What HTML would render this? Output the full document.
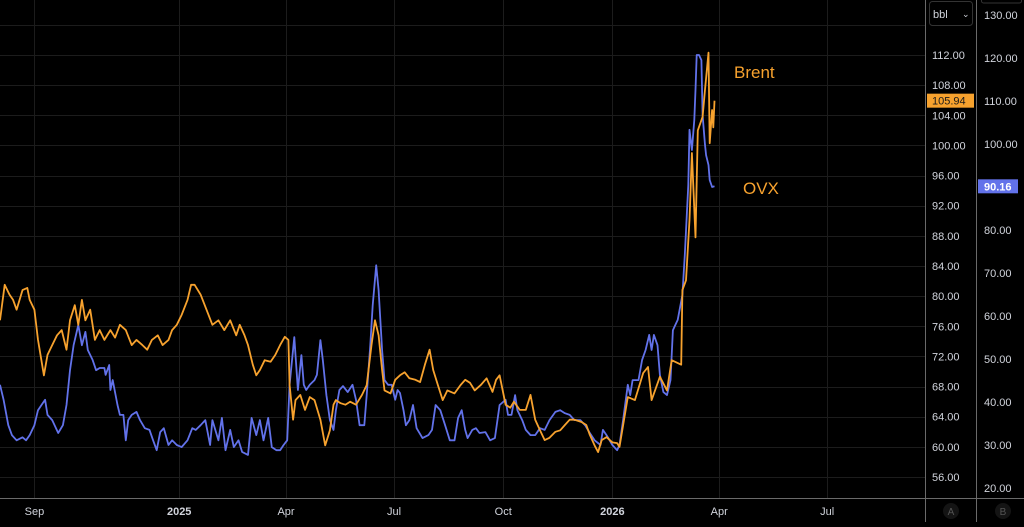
<!DOCTYPE html>
<html><head><meta charset="utf-8"><style>
html,body{margin:0;padding:0;background:#000;}
body{width:1024px;height:522px;overflow:hidden;font-family:"Liberation Sans",sans-serif;}
svg text{font-family:"Liberation Sans",sans-serif;}
</style></head><body>
<svg id="chart" width="1024" height="522" xmlns="http://www.w3.org/2000/svg">
<rect x="0" y="0" width="1024" height="522" fill="#000"/>
<g id="grid"></g>
<g id="series"></g>
<line x1="925.5" y1="0" x2="925.5" y2="522" stroke="#6a6a6a" stroke-width="1"/>
<line x1="976.5" y1="0" x2="976.5" y2="522" stroke="#6a6a6a" stroke-width="1"/>
<line x1="0" y1="498.5" x2="1024" y2="498.5" stroke="#6a6a6a" stroke-width="1"/>
<g id="axisA"></g>
<g id="axisB"></g>
<g id="axisX"></g>
<g>
<rect x="929.5" y="1.5" width="43" height="24" rx="3" fill="#000" stroke="#333"/>
<text x="933" y="18" fill="#d1d4dc" font-size="11">bbl</text>
<text x="962" y="17" fill="#d1d4dc" font-size="9">⌄</text>
</g>
<rect x="981.5" y="-4" width="40" height="7" rx="2" fill="none" stroke="#333"/>
<g><circle cx="951" cy="511" r="8" fill="#141414"/><text x="951" y="515" fill="#555" font-size="10" text-anchor="middle">A</text></g>
<g><circle cx="1003" cy="511" r="8" fill="#141414"/><text x="1003" y="515" fill="#555" font-size="10" text-anchor="middle">B</text></g>
<text x="734" y="78" fill="#f7a22e" font-size="17">Brent</text>
<text x="743" y="194" fill="#f7a22e" font-size="17">OVX</text>
<g id="tags"></g>
</svg>
<script>
const brentDays=[0,4,8,11,14,19,23,25,29,32,37,40,44,48,52,56,59,63,66,69,72,76,80,84,88,93,97,101,106,111,115,120,124,128,133,137,142,145,149,153,158,161,164,169,174,179,184,189,194,199,202,206,209,213,216,219,223,228,232,236,240,243,244,247,249,253,257,261,265,270,274,278,281,283,287,291,295,300,305,309,313,316,319,322,324,329,333,337,341,345,350,354,358,362,365,369,373,377,383,388,392,396,400,405,410,415,418,421,426,430,433,438,443,447,451,455,459,463,468,472,476,480,484,490,494,497,501,504,507,511,516,520,522,529,535,542,546,549,556,562,566,574,575,578,581,583,586,588,592,594,597,598,600,601,602];
const brentValues=[76.8,81.5,80.2,79.5,78.2,80.8,81.1,79.5,78.2,74.2,69.5,72.2,73.5,74.8,75.5,72.9,76.8,78.8,76.2,79.5,76.8,78.2,74.2,75.5,74.2,75.5,74.5,76.2,75.5,73.5,74.2,73.5,72.9,74.2,74.8,73.5,74.2,75.5,76.2,77.5,79.5,81.5,81.5,80.2,78.2,76.2,76.8,75.5,76.8,74.8,76.2,74.8,73.5,70.9,69.5,70.2,71.5,71.3,72.2,73.5,74.6,74.2,68.2,63.6,66.2,66.9,64.9,66.6,66.2,63.6,60.2,62.2,65.6,66.2,65.8,65.6,66.0,65.6,66.9,68.2,73.5,76.8,74.8,70.2,67.5,67.1,68.9,69.5,69.9,69.1,68.9,68.6,70.9,72.9,70.2,68.2,66.2,67.5,67.1,68.2,68.9,68.5,67.5,68.2,69.1,67.3,68.9,69.5,65.6,65.2,66.0,64.9,64.9,66.9,63.6,62.2,60.9,61.2,62.0,62.2,62.9,63.6,63.6,63.3,62.9,61.6,60.2,59.3,60.9,61.3,60.6,60.5,60.0,66.6,66.2,69.8,70.6,66.2,69.3,67.5,71.5,70.9,80.8,82.1,90.1,99.0,87.8,102.0,103.8,107.4,112.3,100.3,104.7,102.4,105.94];
const ovxDays=[0,3,7,10,14,19,22,25,29,32,35,38,40,44,46,49,53,56,59,62,63,66,69,72,74,78,81,84,88,89,92,93,95,99,101,104,106,108,111,115,118,122,126,129,132,135,138,142,145,149,153,158,162,165,169,173,177,179,184,187,190,194,197,201,204,209,212,216,219,222,226,229,233,236,239,242,244,248,249,251,254,256,258,261,265,267,270,272,275,278,281,283,286,289,293,297,300,303,307,309,312,314,317,319,322,324,327,330,333,335,337,340,342,345,348,351,356,361,364,367,371,375,379,383,386,389,392,394,398,401,404,409,413,417,421,426,428,431,434,436,440,443,447,451,455,459,463,468,472,476,480,484,489,493,497,501,506,508,511,516,520,522,525,529,531,533,538,541,544,547,549,551,554,556,559,562,565,567,569,571,575,577,580,581,583,585,586,587,589,591,592,594,595,597,598,600,602];
const ovxValues=[44.0,40.5,34.6,32.3,31.1,31.8,31.1,32.3,34.6,38.1,39.3,40.5,37.0,35.8,34.6,32.8,34.6,39.3,47.4,53.2,54.4,57.9,53.2,56.3,52.1,49.8,47.4,47.9,47.9,46.3,48.6,42.8,45.1,39.3,37.0,37.0,31.1,35.8,37.0,37.7,35.8,33.9,33.5,31.1,28.8,33.0,33.9,30.0,31.1,30.0,29.5,31.1,33.9,33.5,34.6,35.8,30.0,35.8,31.1,36.3,28.8,33.5,29.5,31.1,28.4,27.7,36.3,32.3,35.8,31.1,36.3,29.5,28.8,28.8,30.0,31.1,44.0,55.1,50.9,42.8,50.9,44.0,42.8,44.0,45.1,46.3,54.4,49.8,41.6,35.8,33.5,38.1,42.8,43.7,42.3,44.0,40.5,34.6,34.6,41.6,53.2,62.5,71.8,66.0,52.1,45.1,44.0,44.0,40.5,42.8,42.1,38.1,34.6,35.8,39.3,33.9,31.6,32.3,33.5,39.3,38.1,34.6,31.1,31.1,36.3,38.1,33.5,31.6,33.5,33.9,32.8,33.0,31.1,31.6,39.3,40.5,37.0,37.0,41.6,38.1,35.8,33.5,32.3,32.3,33.9,33.5,35.8,37.7,38.1,37.4,37.0,35.8,35.8,34.6,32.8,31.1,30.0,33.5,32.3,30.0,28.8,30.0,35.8,44.0,41.6,45.1,45.1,49.8,52.1,55.6,52.1,55.6,53.2,46.3,42.3,41.6,45.1,56.7,57.9,59.1,64.9,74.2,90.5,103.3,98.6,105.6,112.6,120.7,120.7,119.5,106.7,99.8,97.4,95.1,91.6,90.0,90.16];
const axisATicks=[56,60,64,68,72,76,80,84,88,92,96,100,104,108,112,116];
const axisBTicks=[20,30,40,50,60,70,80,90,100,110,120,130];
const timeTickDays=[29,151,241,332,424,516,606,697];
const timeTickLabels=["Sep","2025","Apr","Jul","Oct","2026","Apr","Jul"];
const timeTickBold=[false,true,false,false,false,true,false,false];

const NS="http://www.w3.org/2000/svg";
const xScale=d=>d*1.1868;
const yA=v=>55+(112-v)*7.536;
const yB=v=>15+(130-v)*4.3;
function mk(tag,attrs,parent){const e=document.createElementNS(NS,tag);for(const k in attrs)e.setAttribute(k,attrs[k]);parent.appendChild(e);return e;}
const grid=document.getElementById('grid');
axisATicks.forEach(v=>{const y=Math.round(yA(v))+0.5;
 const l=mk('line',{x1:0,x2:925,y1:y,y2:y,stroke:'#1c1c1c','stroke-width':1},grid);
 
 });
timeTickDays.forEach(d=>{const x=Math.round(xScale(d))+0.5;
 const l=mk('line',{x1:x,x2:x,y1:0,y2:498,stroke:'#1c1c1c','stroke-width':1},grid);
 
 });
const aA=document.getElementById('axisA');
axisATicks.forEach(v=>{if(v>112)return;const t=mk('text',{x:932,y:yA(v)+4,fill:'#d1d4dc','font-size':11},aA);t.textContent=v.toFixed(2);
 
 });
const aB=document.getElementById('axisB');
axisBTicks.forEach(v=>{const t=mk('text',{x:984,y:yB(v)+4,fill:'#d1d4dc','font-size':11},aB);t.textContent=v.toFixed(2);
 
 });
const aX=document.getElementById('axisX');
timeTickDays.forEach((d,i)=>{const t=mk('text',{x:xScale(d),y:515,fill:'#d1d4dc','font-size':11,'text-anchor':'middle','font-weight':timeTickBold[i]?'bold':'normal'},aX);t.textContent=timeTickLabels[i];
 
 });
const series=document.getElementById('series');
const ovxPath=mk('path',{d:ovxDays.map((d,i)=>(i?'L':'M')+xScale(d).toFixed(1)+' '+yB(ovxValues[i]).toFixed(1)).join(''),fill:'none',stroke:'#6272ea','stroke-width':1.8,'stroke-linejoin':'round'},series);


const brentPath=mk('path',{d:brentDays.map((d,i)=>(i?'L':'M')+xScale(d).toFixed(1)+' '+yA(brentValues[i]).toFixed(1)).join(''),fill:'none',stroke:'#f7a22e','stroke-width':1.8,'stroke-linejoin':'round'},series);


const tags=document.getElementById('tags');
const lb=brentValues[brentValues.length-1], lo=ovxValues[ovxValues.length-1];
const bg=mk('g',{},tags);


mk('rect',{x:927,y:yA(lb)-7,width:47,height:14,fill:'#f7a22e'},bg);
const bt=mk('text',{x:932,y:yA(lb)+4,fill:'#1a1a1a','font-size':11},bg);bt.textContent=lb.toFixed(2);
const og=mk('g',{},tags);


mk('rect',{x:978,y:yB(lo)-7,width:40,height:14,fill:'#6272ea'},og);
const ot=mk('text',{x:984,y:yB(lo)+4,fill:'#fff','font-size':11,'font-weight':'bold'},og);ot.textContent=lo.toFixed(2);
</script>
</body></html>
